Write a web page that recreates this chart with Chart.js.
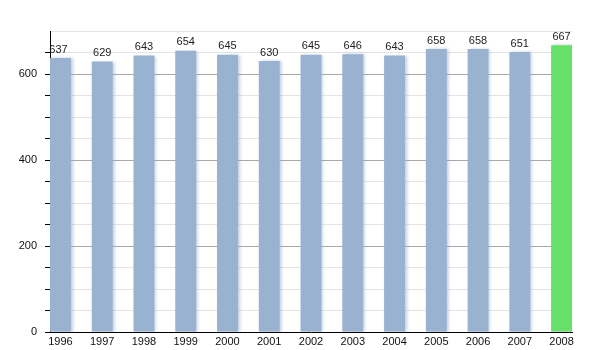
<!DOCTYPE html>
<html>
<head>
<meta charset="utf-8">
<script src="https://cdn.jsdelivr.net/npm/chart.js@4/dist/chart.umd.min.js"></script>
<style>
html,body{margin:0;padding:0;background:#fff;}
#wrap{width:600px;height:350px;position:relative;}
</style>
</head>
<body>
<div id="wrap"><canvas id="c" width="600" height="350"></canvas></div>
<script>
const years = ['1996','1997','1998','1999','2000','2001','2002','2003','2004','2005','2006','2007','2008'];
const population = [637,629,643,654,645,630,645,646,643,658,658,651,667];
const yTickLabels = [0,200,400,600];
const barColor = '#98b2cf';
const highlightColor = '#66e066';

const points = population.map((v,i)=>({x:i,y:v}));
const colors = population.map((v,i)=> i===population.length-1 ? highlightColor : barColor);

const labelPlugin = {
  id:'valueLabels',
  afterDatasetsDraw(chart){
    const ctx = chart.ctx;
    const meta = chart.getDatasetMeta(0);
    ctx.save();
    ctx.font = '11px "Liberation Sans", Arial, sans-serif';
    ctx.fillStyle = '#222';
    ctx.textAlign = 'center';
    ctx.textBaseline = 'bottom';
    meta.data.forEach((el,i)=>{
      ctx.fillText(String(population[i]), el.x - (i===0?2:0), el.y - 3);
    });
    ctx.restore();
  }
};
const shadowPlugin = {
  id:'barShadow',
  beforeDatasetDraw(chart){
    const ctx = chart.ctx;
    ctx.save();
    ctx.shadowColor = 'rgba(140,165,200,0.55)';
    ctx.shadowOffsetX = 2;
    ctx.shadowOffsetY = 0;
    ctx.shadowBlur = 3;
  },
  afterDatasetDraw(chart){
    chart.ctx.restore();
  }
};

new Chart(document.getElementById('c'), {
  type:'bar',
  data:{
    datasets:[{
      data: points,
      backgroundColor: colors,
      borderWidth:0,
      categoryPercentage:1,
      barPercentage:0.5
    }]
  },
  options:{
    responsive:false,
    animation:false,
    devicePixelRatio:1,
    layout:{padding:{top:31,right:28,left:0,bottom:0}},
    plugins:{legend:{display:false},tooltip:{enabled:false}},
    scales:{
      x:{
        type:'linear',
        offset:false,
        min:-0.25,
        max:years.length-0.75,
        afterBuildTicks(scale){ scale.ticks = years.map((y,i)=>({value:i})); },
        afterFit(scale){ scale.height = 18; },
        grid:{display:false, drawTicks:false, offset:false},
        border:{display:true,color:'#000',width:1},
        ticks:{
          autoSkip:false,
          maxRotation:0,
          padding:3,
          color:'#111',
          font:{family:'"Liberation Sans", Arial, sans-serif', size:11},
          callback:(v)=>years[v]
        }
      },
      y:{
        min:0,
        max:700,
        afterBuildTicks(scale){
          const t=[]; for(let v=0; v<=700; v+=50) t.push({value:v}); scale.ticks=t;
        },
        afterFit(scale){ scale.width = 50; },
        grid:{
          drawTicks:true,
          tickLength:5,
          tickColor:(c)=> c.tick && c.tick.value===700 ? 'rgba(0,0,0,0)' : '#000',
          color:(c)=>{
            const v=c.tick?c.tick.value:0;
            if(v===0) return 'rgba(0,0,0,0)';
            return yTickLabels.includes(v) ? '#a8a8a8' : '#e4e4e4';
          },
          lineWidth:1
        },
        border:{display:true,color:'#000',width:1},
        ticks:{
          padding:8,
          color:'#111',
          font:{family:'"Liberation Sans", Arial, sans-serif', size:11},
          callback:(v)=> yTickLabels.includes(v) ? String(v) : ''
        }
      }
    }
  },
  plugins:[shadowPlugin,labelPlugin]
});
</script>
</body>
</html>
